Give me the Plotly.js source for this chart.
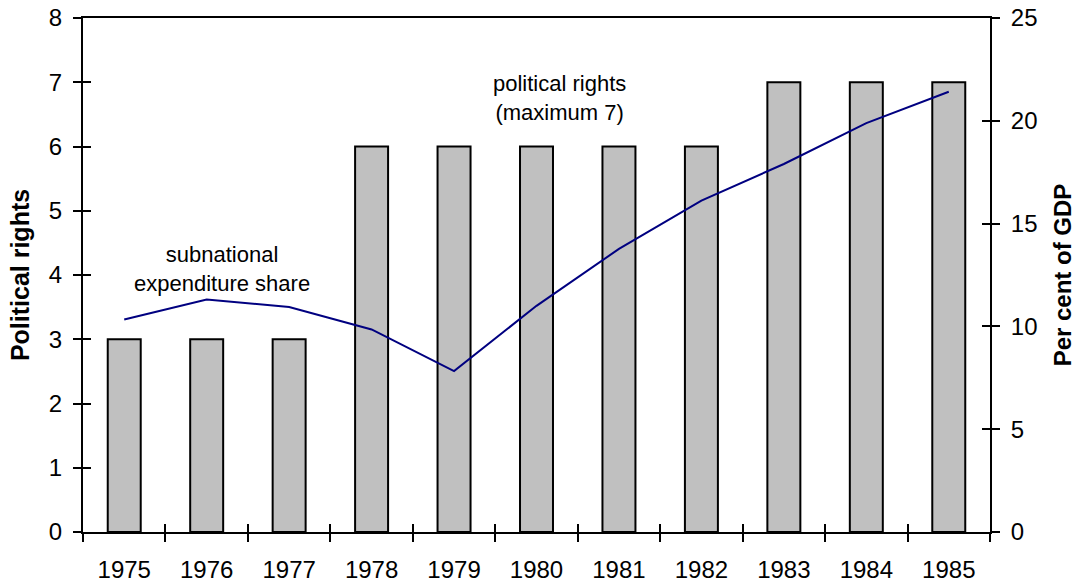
<!DOCTYPE html>
<html>
<head>
<meta charset="utf-8">
<script src="https://cdn.plot.ly/plotly-3.0.1.min.js"></script>
<style>html,body{margin:0;padding:0;background:#fff;}#chart{width:1078px;height:587px;}</style>
</head>
<body>
<div id="chart"></div>
<script>
const years = ['1975','1976','1977','1978','1979','1980','1981','1982','1983','1984','1985'];
const politicalRights = [3,3,3,6,6,6,6,6,7,7,7];
const subnationalShare = [10.34,11.31,10.94,9.85,7.83,11.0,13.77,16.12,17.9,19.89,21.41];
const leftTicks = [0,1,2,3,4,5,6,7,8];
const rightTicks = [0,5,10,15,20,25];

const FONT = 'Liberation Sans, Arial, sans-serif';
const tickFont = {family: FONT, size: 24, color: '#000'};

const traces = [
  {type:'bar', x: years, y: politicalRights, xaxis:'x', yaxis:'y',
   marker:{color:'#c0c0c0', line:{color:'#000', width:2}}, hoverinfo:'skip'},
  {type:'scatter', mode:'lines', x: years, y: subnationalShare, xaxis:'x', yaxis:'y2',
   line:{color:'#000080', width:2}, hoverinfo:'skip'},
  // helper traces so that the inner-tick overlay axes are drawn
  {type:'scatter', mode:'none', x: years, y: politicalRights, xaxis:'x2', yaxis:'y3', hoverinfo:'skip', showlegend:false},
  {type:'scatter', mode:'none', x: years, y: subnationalShare, xaxis:'x2', yaxis:'y4', hoverinfo:'skip', showlegend:false}
];

const axBase = {showgrid:false, zeroline:false, showline:true, linecolor:'#000', linewidth:2,
  ticks:'outside', ticklen:8, tickwidth:2, tickcolor:'#000', tickfont:tickFont};

const layout = {
  width:1078, height:587,
  margin:{l:83, r:88, t:18, b:55},
  paper_bgcolor:'#fff', plot_bgcolor:'#fff',
  showlegend:false,
  bargap:0.6,
  xaxis: Object.assign({}, axBase, {type:'category', range:[-0.5,10.5], tickson:'boundaries', mirror:true, ticklabelstandoff:15}),
  xaxis2: {type:'category', range:[-0.5,10.5], overlaying:'x', anchor:'y', side:'bottom', showgrid:false, zeroline:false, showline:false,
    ticks:'inside', ticklen:8, tickwidth:2, tickcolor:'#000', tickson:'boundaries', showticklabels:false},
  yaxis: Object.assign({}, axBase, {range:[0,8], tickvals:leftTicks, ticklabelstandoff:6,
    title:{text:'<b>Political rights</b>', font:{family:FONT, size:25, color:'#000'}, standoff:12}}),
  yaxis2: Object.assign({}, axBase, {range:[0,25], tickvals:rightTicks, overlaying:'y', side:'right', anchor:'x', ticklabelstandoff:6,
    title:{text:'<b>Per cent of GDP</b>', font:{family:FONT, size:24, color:'#000'}, standoff:18}}),
  yaxis3: {range:[0,8], tickvals:leftTicks, overlaying:'y', side:'left', anchor:'x2', showgrid:false, zeroline:false, showline:false,
    ticks:'inside', ticklen:8, tickwidth:2, tickcolor:'#000', showticklabels:false},
  yaxis4: {range:[0,25], tickvals:rightTicks, overlaying:'y', side:'right', anchor:'x2', showgrid:false, zeroline:false, showline:false,
    ticks:'inside', ticklen:8, tickwidth:2, tickcolor:'#000', showticklabels:false},
  annotations:[
    {xref:'x', yref:'y', x:1.18, y:4.1, text:'subnational<br>expenditure share', showarrow:false,
     font:{family:FONT, size:22, color:'#000'}, align:'center', xanchor:'center', yanchor:'middle'},
    {xref:'x', yref:'y', x:5.28, y:6.75, text:'political rights<br>(maximum 7)', showarrow:false,
     font:{family:FONT, size:22, color:'#000'}, align:'center', xanchor:'center', yanchor:'middle'}
  ]
};

Plotly.newPlot('chart', traces, layout, {displayModeBar:false, staticPlot:true});
</script>
</body>
</html>
